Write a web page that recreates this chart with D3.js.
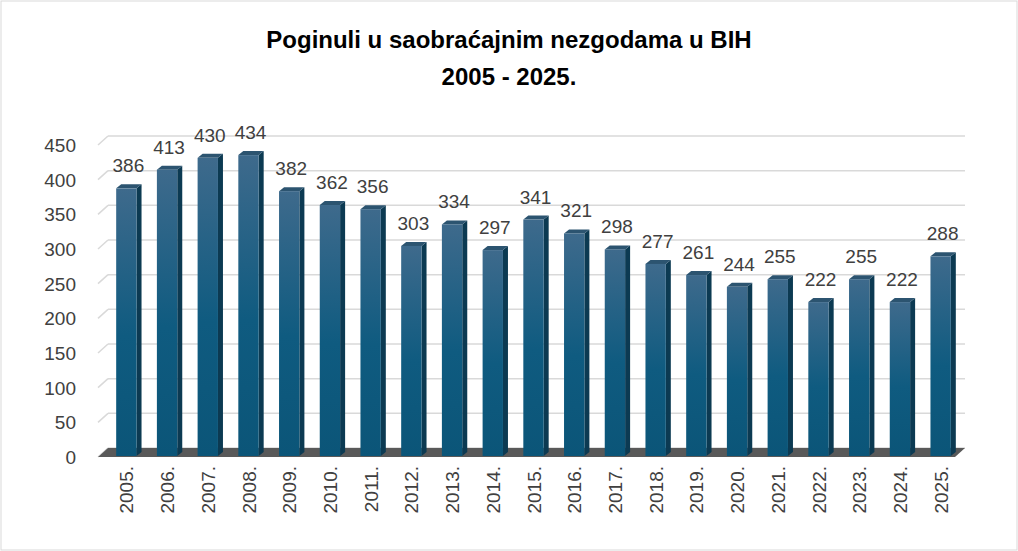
<!DOCTYPE html>
<html><head><meta charset="utf-8">
<script src="https://cdn.jsdelivr.net/npm/d3@7"></script>
<style>body{margin:0;background:#fff}text{font-family:Arial,"Liberation Sans",sans-serif}</style>
</head><body><svg width="1018" height="551"></svg>
<script>
var years = ['2005.','2006.','2007.','2008.','2009.','2010.','2011.','2012.','2013.','2014.','2015.','2016.','2017.','2018.','2019.','2020.','2021.','2022.','2023.','2024.','2025.']
var deaths = [386,413,430,434,382,362,356,303,334,297,341,321,298,277,261,244,255,222,255,222,288]
var ticks = [0,50,100,150,200,250,300,350,400,450]

var svg = d3.select('svg')
svg.append('rect').attr('x',1).attr('y',1).attr('width',1016).attr('height',549).attr('fill','#fff').attr('stroke','#d9d9d9')

svg.append('text').attr('x',509).attr('y',48).attr('text-anchor','middle').attr('font-size',24).attr('font-weight','bold').text('Poginuli u saobraćajnim nezgodama u BIH')
svg.append('text').attr('x',509).attr('y',85).attr('text-anchor','middle').attr('font-size',24).attr('font-weight','bold').text('2005 - 2025.')

var dx = 10, dy = -9  // depth of 3d box
var x = d3.scaleBand().domain(years).range([104, 959]).paddingInner(0.5).paddingOuter(0.25)
var y = d3.scaleLinear().domain([0,450]).range([457,145])

// gridlines (back wall + side wall)
var g = svg.append('g')
ticks.forEach(t => {
    g.append('line').attr('x1',98+dx).attr('x2',965).attr('y1',y(t)+dy).attr('y2',y(t)+dy).attr('stroke','#d9d9d9').attr('stroke-width',1.5)
    g.append('line').attr('x1',98).attr('x2',98+dx).attr('y1',y(t)).attr('y2',y(t)+dy).attr('stroke','#d9d9d9').attr('stroke-width',1.5)
    svg.append('text').attr('x',76).attr('y',y(t)+7).attr('text-anchor','end').attr('font-size',19).attr('fill','#404040').text(t)
})
// floor
svg.append('path').attr('d',`M98,${y(0)}L${98+dx},${y(0)+dy}L965,${y(0)+dy}L955,${y(0)}Z`).attr('fill','#595959')

var defs = svg.append('defs')
var grad = defs.append('linearGradient').attr('id','front').attr('x1',0).attr('x2',0).attr('y1',0).attr('y2',1)
grad.append('stop').attr('offset','0%').attr('stop-color','#3e6a8c')
grad.append('stop').attr('offset','55%').attr('stop-color','#0f5b80')
grad.append('stop').attr('offset','100%').attr('stop-color','#0b5578')

var bw = x.bandwidth(), sd = 5, sh = -4
var bars = svg.selectAll('.bar').data(deaths).enter().append('g')
bars.each(function(d,i){
    var b = d3.select(this)
    var x0 = x(years[i]) + 2, yt = y(d) - 1, yb = y(0) - 1
    b.append('path').attr('d',`M${x0+bw},${yt}L${x0+bw+sd},${yt+sh}L${x0+bw+sd},${yb+sh}L${x0+bw},${yb}Z`).attr('fill','#0c3a52')
    b.append('path').attr('d',`M${x0},${yt}L${x0+sd},${yt+sh}L${x0+bw+sd},${yt+sh}L${x0+bw},${yt}Z`).attr('fill','#2c5470')
    b.append('rect').attr('x',x0).attr('y',yt).attr('width',bw).attr('height',yb-yt).attr('fill','url(#front)')
    b.append('text').attr('x',x0+bw/2+2).attr('y',yt-16).attr('text-anchor','middle').attr('font-size',19).attr('fill','#404040').text(d)
})

years.forEach(yr => {
    var cx = x(yr) + bw/2 + 2
    svg.append('text').attr('transform',`translate(${cx+7},466) rotate(-90)`).attr('text-anchor','end').attr('font-size',19).attr('fill','#404040').text(yr)
})
</script></body></html>
